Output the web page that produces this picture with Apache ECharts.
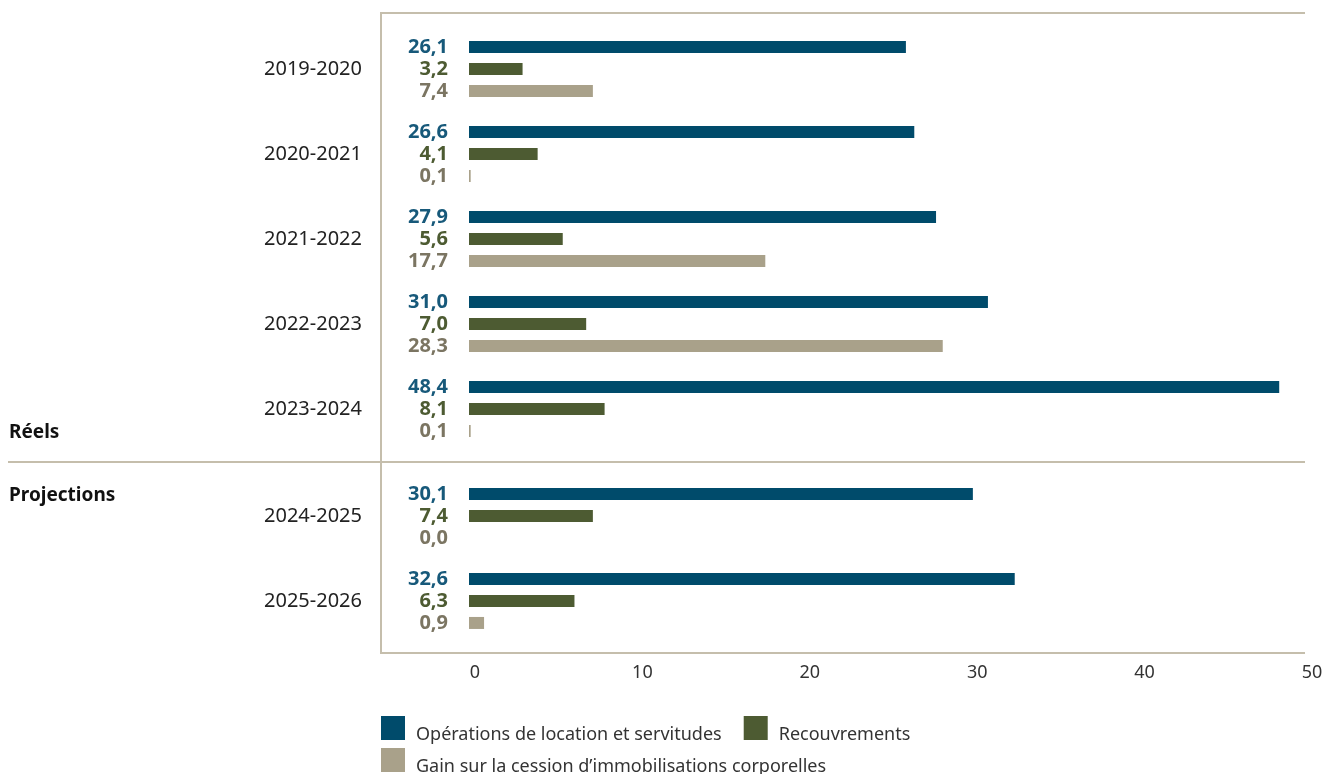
<!DOCTYPE html>
<html>
<head>
<meta charset="utf-8">
<script src="https://cdn.jsdelivr.net/npm/echarts@6/dist/echarts.min.js"></script>
<style>
html,body{margin:0;padding:0;background:#fff;}
#chart{width:1330px;height:774px;}
</style>
</head>
<body>
<div id="chart"></div>
<script>
var categories = ['2019-2020','2020-2021','2021-2022','2022-2023','2023-2024','2024-2025','2025-2026'];
var actualCount = 5;
var seriesNames = ['Opérations de location et servitudes','Recouvrements','Gain sur la cession d\u2019immobilisations corporelles'];
var operations = [26.1,26.6,27.9,31.0,48.4,30.1,32.6];
var recouvrements = [3.2,4.1,5.6,7.0,8.1,7.4,6.3];
var gains = [7.4,0.1,17.7,28.3,0.1,0.0,0.9];
var xTicks = [0,10,20,30,40,50];
var sectionLabels = ['Réels','Projections'];

var barColors = ['#004b6b','#4d5b32','#a9a18a'];
var labelColors = ['#17597a','#4d5b32','#7b7562'];
var frame = '#c5beac';
var FONT = 'Noto Sans';

var allValues = [operations, recouvrements, gains];
var cats1 = categories.slice(0, actualCount), cats2 = categories.slice(actualCount);

function fmt(v){ return v.toFixed(1).replace('.', ','); }

var series = [];
[0,1].forEach(function(g){
  for (var i=0;i<3;i++){
    var vals = g===0 ? allValues[i].slice(0,actualCount) : allValues[i].slice(actualCount);
    series.push({
      type:'bar', name: seriesNames[i], xAxisIndex:g, yAxisIndex:g,
      data: vals, barWidth:12, barGap:'83%',
      itemStyle:{color:barColors[i]},
      label:{show:true, position:'left', distance:21, formatter:function(p){return fmt(p.value);},
        color:labelColors[i], fontFamily:FONT, fontWeight:'bold', fontSize:20},
      animation:false
    });
  }
});

var yBase = {type:'category', inverse:true, axisLine:{show:false}, axisTick:{show:false},
  axisLabel:{margin:107, color:'#222', fontFamily:FONT, fontSize:20}};

var legendText = {fontFamily:FONT, fontSize:18, color:'#333',
  rich:{t:{fontFamily:FONT, fontSize:18, color:'#333', padding:[14,0,0,6]}}};

var option = {
  animation:false,
  grid:[
    {left:469, right:24, top:26.5, height:425},
    {left:469, right:24, top:473.5, height:170}
  ],
  xAxis:[
    {gridIndex:0, type:'value', min:0, max:50, interval:10, show:false},
    {gridIndex:1, type:'value', min:xTicks[0], max:xTicks[xTicks.length-1], interval:10,
      axisLine:{show:false}, axisTick:{show:false}, splitLine:{show:false},
      axisLabel:{margin:20, color:'#333', fontFamily:FONT, fontSize:18, padding:[0,0,0,12]}}
  ],
  yAxis:[
    Object.assign({}, yBase, {gridIndex:0, data:cats1}),
    Object.assign({}, yBase, {gridIndex:1, data:cats2})
  ],
  legend:[
    {data:[seriesNames[0],seriesNames[1]], left:381, top:716, itemWidth:24, itemHeight:24, itemGap:22,
      icon:'rect', padding:0, formatter:'{t|{name}}', textStyle:legendText},
    {data:[seriesNames[2]], left:381, top:748, itemWidth:24, itemHeight:24,
      icon:'rect', padding:0, formatter:'{t|{name}}', textStyle:legendText}
  ],
  graphic:[
    {type:'line', shape:{x1:381,y1:13,x2:1305,y2:13}, style:{stroke:frame, lineWidth:2}, silent:true},
    {type:'line', shape:{x1:381,y1:12,x2:381,y2:654}, style:{stroke:frame, lineWidth:2}, silent:true},
    {type:'line', shape:{x1:381,y1:653,x2:1305,y2:653}, style:{stroke:frame, lineWidth:2}, silent:true},
    {type:'line', shape:{x1:8,y1:462,x2:1305,y2:462}, style:{stroke:frame, lineWidth:2}, silent:true},
    {type:'text', left:9, top:423, style:{text:sectionLabels[0], font:'bold 19px "Noto Sans"', fill:'#111'}},
    {type:'text', left:9, top:486, style:{text:sectionLabels[1], font:'bold 19px "Noto Sans"', fill:'#111'}}
  ],
  series:series
};
var chart = echarts.init(document.getElementById('chart'), null, {renderer:'canvas'});
chart.setOption(option);
</script>
</body>
</html>
